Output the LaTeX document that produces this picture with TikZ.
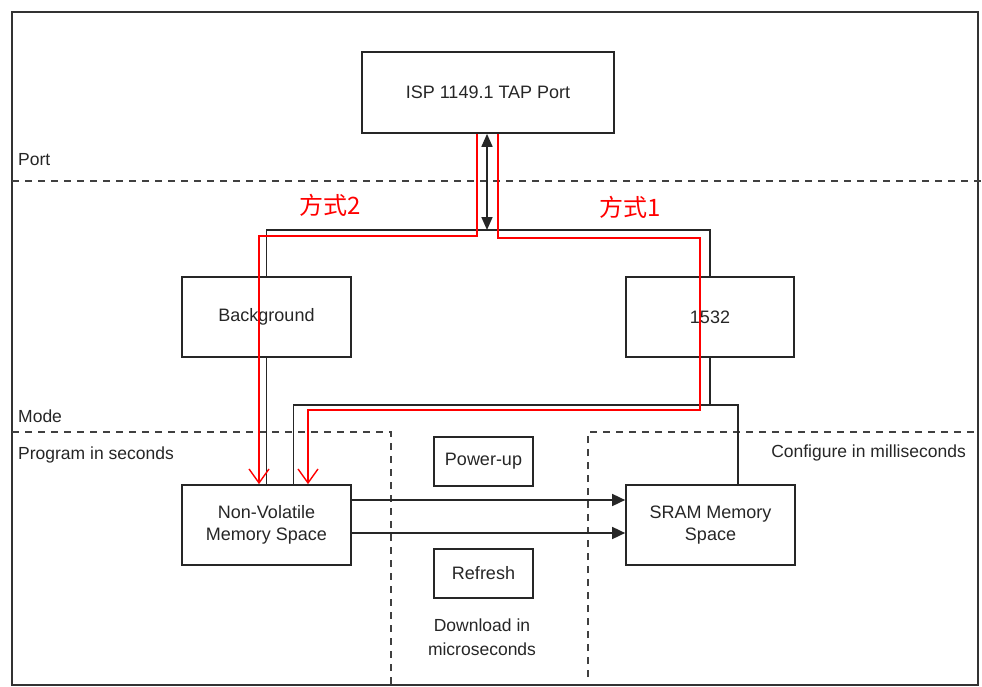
\documentclass[tikz,border=0pt]{standalone}
\usepackage{fontspec}
\setmainfont{Liberation Sans}
\newfontfamily\cjk{Noto Sans CJK SC}
\usetikzlibrary{arrows.meta,calc}
\begin{document}
\begin{tikzpicture}[x=1pt,y=-1pt,
  txt/.style={font=\fontsize{17.5}{24}\selectfont, text=black!85, inner sep=0pt},
  box/.style={draw=black!85, line width=1.7pt, inner sep=0pt, align=center,
    font=\fontsize{18}{22}\selectfont, text=black!85},
  conn/.style={draw=black!85, line width=1.7pt},
  arr/.style={conn, -{Triangle[length=13pt,width=12pt]}},
  dbl/.style={conn, {Triangle[length=13pt,width=11pt]}-{Triangle[length=13pt,width=11pt]}},
  redline/.style={draw=red, line width=1.4pt, -{Straight Barb[length=14pt,width=20pt]}},
  zone/.style={draw=black!75, line width=1.6pt, dash pattern=on 7pt off 6pt},
  redlabel/.style={font=\cjk\fontsize{24}{26}\selectfont, text=red, inner sep=0pt}]
\useasboundingbox (0,0) rectangle (982,687);
\draw[line width=1.7pt, black!80] (12,12) rectangle (978,685);

% boxes
\node[box, minimum width=252pt, minimum height=81pt] (isp) at (488,92.5) {ISP 1149.1 TAP Port};
\node[box, minimum width=169pt, minimum height=80pt] (bg) at (266.5,317) {Background};
\node[box, minimum width=168pt, minimum height=80pt] (n1532) at (710,317) {1532};
\node[box, minimum width=169pt, minimum height=80pt] (nv) at (266.5,525) {Non-Volatile\\Memory Space};
\node[box, minimum width=169pt, minimum height=80pt] (sram) at (710.5,525) {SRAM Memory\\Space};
\node[box, minimum width=99pt, minimum height=49pt] (pwr) at (483.5,461.5) {Power-up};
\node[box, minimum width=99pt, minimum height=49pt] (ref) at (483.5,573.5) {Refresh};

% labels
\node[txt, anchor=west] (lport) at (18,160) {Port};
\node[txt, anchor=west] (lmode) at (18,416) {Mode};
\node[txt, anchor=west] (lprog) at (18,455) {Program in seconds};
\node[txt, anchor=east] (lconf) at (966,453) {Configure in milliseconds};
\node[txt, align=center] (ldown) at (482,637) {Download in\\microseconds};
\node[redlabel] (m2) at (330,205) {方式2};
\node[redlabel] (m1) at (630,207) {方式1};

% zone separators
\draw[zone] (12,181) -- (982,181);
\draw[zone] (12,432) -- (391,432) -- (391,685);
\draw[zone] (588,677) -- (588,432) -- (978,432);

% helper coordinates
\coordinate (busy) at (0,230);
\coordinate (lowy) at (0,405);
\coordinate (a1y) at (0,500);
\coordinate (a2y) at (0,533);
\coordinate (r1a) at (700,238);
\coordinate (r1b) at (700,410);

% black connectors
\draw[conn] (bg.north) -- (bg.north |- busy) -- (n1532.north |- busy) -- (n1532.north);
\draw[dbl] ([xshift=-1pt]isp.south) -- ([xshift=-1pt]isp.south |- busy);
\draw[conn] (bg.south) -- (nv.north);
\draw[conn] (n1532.south) -- (n1532.south |- lowy);
\draw[conn] ([xshift=27pt]nv.north) -- ([xshift=27pt]nv.north |- lowy) -- ([xshift=27.5pt]sram.north |- lowy) -- ([xshift=27.5pt]sram.north);
\draw[arr] (nv.east |- a1y) -- (sram.west |- a1y);
\draw[arr] (nv.east |- a2y) -- (sram.west |- a2y);

% red routes
\draw[redline] ([xshift=-11pt]isp.south) -- ++(0,102) -| ([xshift=-7.5pt]nv.north);
\draw[redline] ([xshift=10pt]isp.south) |- (r1a) -- (r1b) -| ([xshift=41.5pt]nv.north);
\end{tikzpicture}
\end{document}
